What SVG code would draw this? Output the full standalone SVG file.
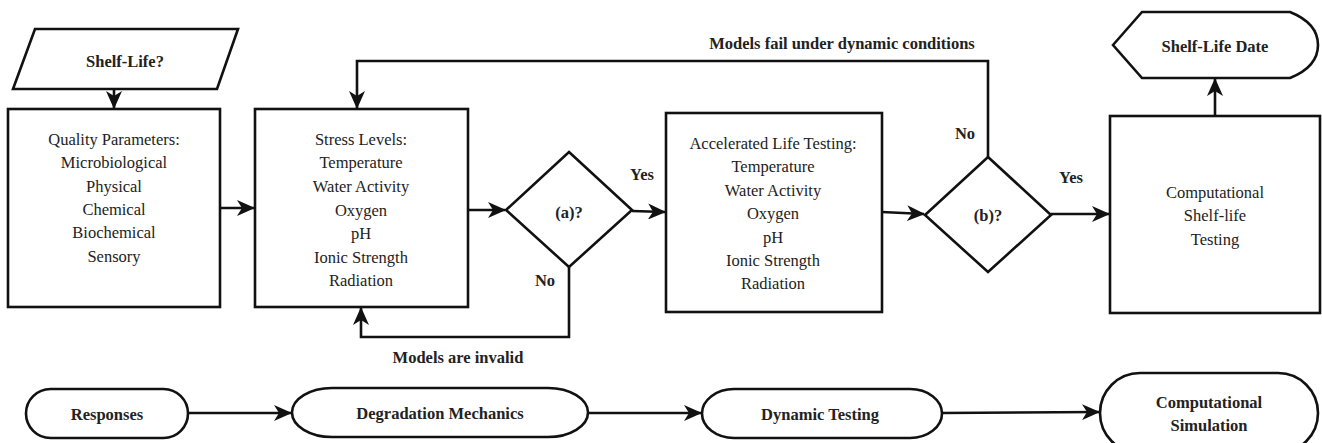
<svg xmlns="http://www.w3.org/2000/svg" width="1322" height="443" viewBox="0 0 1322 443">
<defs>
<marker id="arr" markerUnits="userSpaceOnUse" markerWidth="18" markerHeight="16" viewBox="0 0 18 16" refX="17" refY="8" orient="auto">
<path d="M0,0 L18,8 L0,16 L5,8 Z" fill="#111"/>
</marker>
<style>
.shape{fill:#fff;stroke:#111;stroke-width:2.6}
.conn{fill:none;stroke:#111;stroke-width:2.6;marker-end:url(#arr)}
.t{font-family:"Liberation Serif","Times New Roman","DejaVu Serif",serif;font-size:16.5px;fill:#222;text-anchor:middle;dominant-baseline:central}
.b{font-weight:bold}
</style>
</defs>
<rect width="1322" height="443" fill="#fff"/>

<g id="connectors">
<path class="conn" d="M114,89 L114,108"/>
<path class="conn" d="M220,208 L254,208"/>
<path class="conn" d="M468,210 L505,210"/>
<path class="conn" d="M632,211 L665,212"/>
<path class="conn" d="M882,212 L924,214"/>
<path class="conn" d="M1051,214 L1109,214"/>
<path class="conn" d="M1215,116 L1215,79"/>
<path class="conn" d="M569,267 L569,337 L361,337 L361,308"/>
<path class="conn" d="M988,157 L988,61 L357,61 L357,108"/>
<path class="conn" d="M188,413 L291,413"/>
<path class="conn" d="M588,413 L701,413"/>
<path class="conn" d="M942,413 L1099,412"/>
<text class="t b" x="458" y="357">Models are invalid</text>
<text class="t b" x="842" y="43">Models fail under dynamic conditions</text>
<text class="t b" x="642" y="174">Yes</text>
<text class="t b" x="545" y="280">No</text>
<text class="t b" x="1071" y="177">Yes</text>
<text class="t b" x="965" y="133">No</text>
</g>

<g id="shelf-life">
<path class="shape" d="M35,29 L238,29 L217,89 L13,89 Z"/>
<text class="t b" x="125" y="61">Shelf-Life?</text>
</g>

<g id="quality-parameters">
<rect class="shape" x="8" y="109" width="212" height="198"/>
<text class="t" x="114" y="139">Quality Parameters:</text>
<text class="t" x="114" y="162">Microbiological</text>
<text class="t" x="114" y="186">Physical</text>
<text class="t" x="114" y="209">Chemical</text>
<text class="t" x="114" y="232">Biochemical</text>
<text class="t" x="114" y="256">Sensory</text>
</g>

<g id="stress-levels">
<rect class="shape" x="255" y="109" width="213" height="198"/>
<text class="t" x="361" y="139">Stress Levels:</text>
<text class="t" x="361" y="162">Temperature</text>
<text class="t" x="361" y="186">Water Activity</text>
<text class="t" x="361" y="210">Oxygen</text>
<text class="t" x="361" y="233">pH</text>
<text class="t" x="361" y="257">Ionic Strength</text>
<text class="t" x="361" y="280">Radiation</text>
</g>

<g id="decision-a">
<path class="shape" d="M569,152 L632,210 L569,267 L506,210 Z"/>
<text class="t b" x="569" y="212">(a)?</text>
</g>

<g id="accelerated-life-testing">
<rect class="shape" x="666" y="113" width="216" height="199"/>
<text class="t" x="773" y="143">Accelerated Life Testing:</text>
<text class="t" x="773" y="166">Temperature</text>
<text class="t" x="773" y="190">Water Activity</text>
<text class="t" x="773" y="213">Oxygen</text>
<text class="t" x="773" y="237">pH</text>
<text class="t" x="773" y="260">Ionic Strength</text>
<text class="t" x="773" y="283">Radiation</text>
</g>

<g id="decision-b">
<path class="shape" d="M988,157 L1051,215 L988,272 L925,215 Z"/>
<text class="t b" x="988" y="215">(b)?</text>
</g>

<g id="computational-testing">
<rect class="shape" x="1110" y="116" width="210" height="197"/>
<text class="t" x="1215" y="192">Computational</text>
<text class="t" x="1215" y="215">Shelf-life</text>
<text class="t" x="1215" y="239">Testing</text>
</g>

<g id="shelf-life-date">
<path class="shape" d="M1113,45 L1142,12 L1290,12 C1310,20 1318,32 1318,45 C1318,58 1310,70 1290,78 L1142,78 Z"/>
<text class="t b" x="1215" y="46">Shelf-Life Date</text>
</g>

<g id="responses">
<rect class="shape" x="26" y="389" width="162" height="49" rx="24.5" ry="24.5"/>
<text class="t b" x="107" y="414">Responses</text>
</g>

<g id="degradation-mechanics">
<rect class="shape" x="292" y="388" width="296" height="49" rx="40" ry="24.5"/>
<text class="t b" x="440" y="413">Degradation Mechanics</text>
</g>

<g id="dynamic-testing">
<rect class="shape" x="702" y="389" width="240" height="49" rx="32" ry="24.5"/>
<text class="t b" x="820" y="414">Dynamic Testing</text>
</g>

<g id="computational-simulation">
<rect class="shape" x="1100" y="373" width="218" height="80" rx="40" ry="40"/>
<text class="t b" x="1209" y="402">Computational</text>
<text class="t b" x="1209" y="425">Simulation</text>
</g>
</svg>
